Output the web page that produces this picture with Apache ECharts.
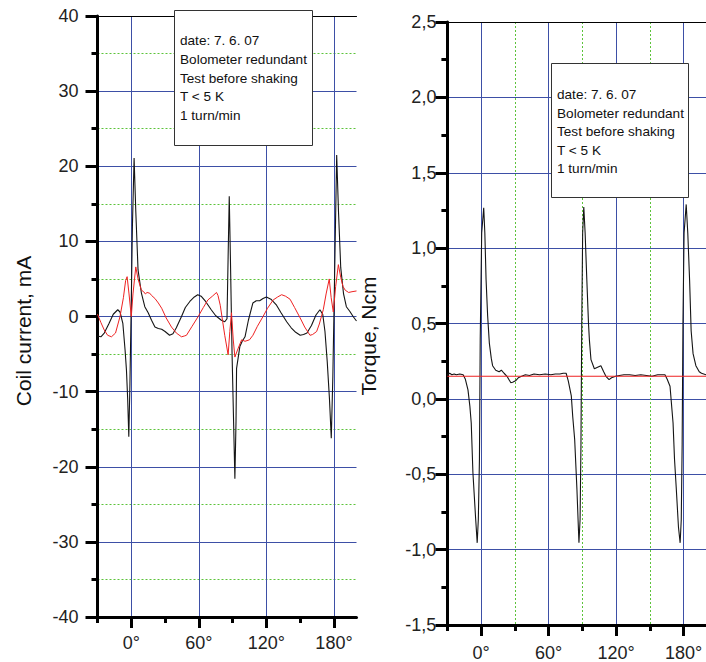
<!DOCTYPE html>
<html><head><meta charset="utf-8">
<script src="https://cdn.jsdelivr.net/npm/echarts@6/dist/echarts.min.js"></script>
<style>html,body{margin:0;padding:0;background:#fff}#c{width:706px;height:662px}</style>
</head><body><div id="c"></div>
<script>
// ---- tick labels / categories ----
const xTicks = ['-30','-20','-10','0','10','20','30','40','50','60','70','80','90','100','110','120','130','140','150','160','170','180','190','200'];
const xMajor = [0, 60, 120, 180];
const xMinor = [-30, 30, 90, 150];
const yTicksLeft = ['-40','-35','-30','-25','-20','-15','-10','-5','0','5','10','15','20','25','30','35','40'];
const yTicksRight = ['-1.5','-1.25','-1','-0.75','-0.5','-0.25','0','0.25','0.5','0.75','1','1.25','1.5','1.75','2','2.25','2.5'];

// ---- left chart: coil current, mA ----
const coilBlack = [[-30,-2.6],[-27,-2.7],[-24,-2.2],[-20,-1.0],[-16,0.3],[-12,0.9],[-10,0.6],[-7.5,-0.9],[-5.5,-4.5],[-4.3,-7.1],[-3.2,-11],[-2.2,-16.0],[-1.2,-9],[0,2],[1,12],[2.5,21.1],[4,14],[6,6.2],[9,3.1],[12,1.3],[15,0.5],[18,-0.5],[21,-1.4],[24,-1.6],[27,-1.7],[30,-2.0],[34,-2.5],[37,-2.3],[40,-1.5],[44.6,0],[48,1.2],[52,2.0],[56,2.6],[59,2.9],[62,2.7],[66,2.0],[71,0.9],[75,0.1],[80,-0.5],[83,-0.7],[85,-0.3],[86,8],[87,16.0],[88,8],[89.5,-5],[91,-15],[92,-21.6],[93,-14],[93.5,-6.9],[96.4,-4.0],[98.5,-3.3],[101,-2.7],[104,-0.5],[108,1.8],[111,2.1],[114,2.1],[117,2.4],[120,2.6],[124,2.3],[129,1.5],[133,0.5],[138,-0.7],[142,-1.5],[146,-2.1],[150,-2.5],[153,-2.4],[156,-2.2],[160,-1.2],[164,0.2],[167.5,0.9],[170,0.3],[172,-2],[174,-6],[176,-11],[177.6,-16.2],[179,-8],[180.5,5],[182.4,21.5],[184,14],[186,6.5],[188.5,3],[191,1.3],[194,0.7],[197,0],[200,-0.6]];
const coilRed = [[-30,0.3],[-27,-0.8],[-24,-1.8],[-21,-2.5],[-17.6,-2.7],[-14,-2.2],[-10,0],[-7,2.5],[-5,4.8],[-3.7,5.3],[-2,3],[0,0],[1.5,3],[4,6.6],[6,5],[9,3.5],[11,3.3],[12.5,3.0],[14,3.2],[16.4,3.1],[18,2.8],[21,2.4],[24,1.8],[27,1.1],[31,-0.2],[35.7,-1.4],[40,-2.2],[44.6,-2.7],[47,-2.6],[49,-2.5],[54,-1.3],[59.4,0],[64,1.2],[68,2.2],[72,2.7],[75.7,3.2],[77,2.8],[79,1.5],[81,-0.5],[83,-2.5],[86,-5.1],[87.5,-2],[89,0.5],[90.5,-3],[92,-5.4],[95,-4.2],[98,-3.1],[101,-3.3],[105,-3.1],[108,-2.5],[112,-1.3],[117,0],[121,1.1],[126,2.2],[130,2.6],[133.5,2.9],[137,2.7],[141,2.3],[145,1.2],[150,-0.2],[154,-1.4],[158.7,-2.5],[161,-2.4],[164.6,-2.0],[167,-1],[170.5,0.9],[173,3],[175.8,5.0],[177.5,2.5],[179.4,0.6],[181.5,4],[183.9,6.9],[186,5.2],[188,4.0],[190,3.5],[193,3.2],[196,3.3],[200,3.4]];

// ---- right chart: torque, Ncm ----
const torqueBlack = [[-30,0.16],[-28,0.17],[-26,0.16],[-24,0.165],[-22,0.16],[-19,0.165],[-16,0.16],[-14,0.13],[-11.7,0.06],[-10,-0.05],[-8.8,-0.16],[-7.3,-0.49],[-5,-0.78],[-3.5,-0.955],[-2.5,-0.8],[-1.5,-0.4],[-0.8,0.4],[0.5,1.1],[2.3,1.267],[3.3,1.1],[4.4,0.79],[5.8,0.55],[7.3,0.37],[9,0.27],[10.2,0.22],[13,0.19],[16,0.18],[18,0.19],[20.4,0.17],[23,0.15],[26.3,0.108],[28,0.11],[30.6,0.12],[33,0.14],[36,0.15],[39.4,0.16],[43,0.155],[47,0.165],[52,0.16],[57,0.165],[62,0.16],[66,0.165],[70,0.165],[73,0.17],[75.6,0.17],[77.5,0.12],[80.2,0.02],[81.5,-0.12],[83.2,-0.27],[85.2,-0.6],[87,-0.955],[88,-0.8],[88.8,-0.3],[89.5,0.5],[90.3,1.1],[91.3,1.273],[92.5,1.1],[94,0.79],[95.5,0.5],[96.3,0.39],[97.7,0.26],[100.7,0.2],[103.6,0.21],[106.5,0.22],[109,0.18],[111,0.15],[113.8,0.128],[116,0.14],[119.6,0.15],[123,0.155],[127,0.16],[132,0.16],[137,0.155],[142,0.16],[147,0.155],[152,0.15],[157,0.16],[161,0.16],[163.5,0.16],[165.5,0.13],[168,0.084],[170.7,-0.16],[172,-0.4],[173.6,-0.6],[175.5,-0.85],[177,-0.955],[178,-0.8],[178.8,-0.3],[179.5,0.5],[180.5,1.1],[182.4,1.29],[183.8,1.1],[185.4,0.79],[186.8,0.45],[188.5,0.3],[191,0.22],[194,0.18],[196,0.17],[200,0.16]];
const torqueRed = [[-30,0.15],[200,0.15]];

const infoLines = ['date: 7. 6. 07','Bolometer redundant','Test before shaking','T < 5 K','1 turn/min'];
const yNameLeft = 'Coil current, mA';
const yNameRight = 'Torque, Ncm';

// ---- styling ----
const FONT = 'Liberation Sans, Arial, sans-serif';
const BLUE = '#3d4fa6';
const GREEN = '#5cc33a';
const isXMajor = (i, v) => xMajor.includes(Number(v));
const isXMinor = (i, v) => xMinor.includes(Number(v));
const isXMinorGrid = (i, v) => Number(v) > -30 && xMinor.includes(Number(v));
const isL10 = (i, v) => Number(v) % 10 === 0;
const isL5 = (i, v) => Number(v) % 10 !== 0;
const isRHalf = (i, v) => Math.abs(Number(v) * 2 - Math.round(Number(v) * 2)) < 1e-9;
const isRQuarter = (i, v) => !isRHalf(i, v);

function xDecor(grid, major, showMinorGrid) {
  const minor = {
    type: 'category', gridIndex: grid, position: 'bottom', data: xTicks, boundaryGap: false,
    axisLine: { show: false }, axisLabel: { show: false },
    axisTick: { show: true, interval: isXMinor, length: 6, lineStyle: { color: '#000', width: 3 } },
    splitLine: { show: showMinorGrid, interval: isXMinorGrid, lineStyle: { color: GREEN, type: [2, 2], width: 1 } }
  };
  const maj = {
    type: 'category', gridIndex: grid, position: 'bottom', data: xTicks, boundaryGap: false,
    axisLine: { show: true, lineStyle: { color: '#000', width: 3 } },
    axisTick: { show: true, interval: isXMajor, length: 11, lineStyle: { color: '#000', width: 3 } },
    axisLabel: { show: true, interval: isXMajor, formatter: v => v + '°', fontSize: 18, fontFamily: FONT, color: '#222', margin: major },
    splitLine: { show: true, interval: isXMajor, lineStyle: { color: BLUE, width: 1 } }
  };
  const top = {
    type: 'category', gridIndex: grid, position: 'top', data: xTicks, boundaryGap: false,
    axisLine: { show: true, lineStyle: { color: '#000', width: 1 } },
    axisTick: { show: false }, axisLabel: { show: false }, splitLine: { show: false }
  };
  return [minor, maj, top];
}

const option = {
  animation: false,
  backgroundColor: '#fff',
  grid: [
    { left: 97.5, top: 16, width: 259, height: 601 },
    { left: 447.4, top: 22, width: 263, height: 603 }
  ],
  xAxis: [
    { type: 'value', gridIndex: 0, min: -30, max: 200, show: false },
    ...xDecor(0, 17, false),
    { type: 'value', gridIndex: 1, min: -30, max: 200, show: false },
    ...xDecor(1, 19, true)
  ],
  yAxis: [
    { type: 'value', gridIndex: 0, position: 'left', min: -40, max: 40, show: false },
    { type: 'category', gridIndex: 0, position: 'left', data: yTicksLeft, boundaryGap: false,
      axisLine: { show: false }, axisLabel: { show: false },
      axisTick: { show: true, interval: isL5, length: 6, lineStyle: { color: '#000', width: 3 } },
      splitLine: { show: true, interval: isL5, lineStyle: { color: GREEN, type: [2, 2], width: 1 } } },
    { type: 'category', gridIndex: 0, position: 'left', data: yTicksLeft, boundaryGap: false,
      axisLine: { show: true, lineStyle: { color: '#000', width: 3 } },
      axisTick: { show: true, interval: isL10, length: 12, lineStyle: { color: '#000', width: 3 } },
      axisLabel: { show: true, interval: isL10, fontSize: 18, fontFamily: FONT, color: '#222', margin: 19 },
      splitLine: { show: true, interval: isL10, lineStyle: { color: BLUE, width: 1 } } },
    { type: 'value', gridIndex: 1, position: 'left', min: -1.5, max: 2.5, show: false },
    { type: 'category', gridIndex: 1, position: 'left', data: yTicksRight, boundaryGap: false,
      axisLine: { show: false }, axisLabel: { show: false },
      axisTick: { show: true, interval: isRQuarter, length: 6, lineStyle: { color: '#000', width: 3 } },
      splitLine: { show: false } },
    { type: 'category', gridIndex: 1, position: 'left', data: yTicksRight, boundaryGap: false,
      axisLine: { show: true, lineStyle: { color: '#000', width: 3 } },
      axisTick: { show: true, interval: isRHalf, length: 12, lineStyle: { color: '#000', width: 3 } },
      axisLabel: { show: true, interval: isRHalf, fontSize: 18, fontFamily: FONT, color: '#222', margin: 11,
        formatter: v => Number(v).toFixed(1).replace('.', ',') },
      splitLine: { show: true, interval: isRHalf, lineStyle: { color: BLUE, width: 1 } } }
  ],
  series: [
    { type: 'line', xAxisIndex: 0, yAxisIndex: 0, data: coilBlack, showSymbol: false, lineStyle: { color: '#151515', width: 1.1 }, z: 3 },
    { type: 'line', xAxisIndex: 0, yAxisIndex: 0, data: coilRed, showSymbol: false, lineStyle: { color: '#ee2222', width: 1 }, z: 4 },
    { type: 'line', xAxisIndex: 4, yAxisIndex: 3, data: torqueBlack, showSymbol: false, lineStyle: { color: '#151515', width: 1.1 }, z: 3 },
    { type: 'line', xAxisIndex: 4, yAxisIndex: 3, data: torqueRed, showSymbol: false, lineStyle: { color: '#ee2222', width: 1.2 }, z: 4 }
  ],
  graphic: [
    { type: 'rect', z: 50, shape: { x: 174.5, y: 10.5, width: 138, height: 135 }, style: { fill: '#fff', stroke: '#333', lineWidth: 1 } },
    { type: 'text', z: 51, x: 180, y: 31.5, style: { text: infoLines.join('\n'), fontSize: 13.6, lineHeight: 18.7, fontFamily: FONT, fill: '#111' } },
    { type: 'rect', z: 50, shape: { x: 551.5, y: 63.5, width: 137, height: 134 }, style: { fill: '#fff', stroke: '#333', lineWidth: 1 } },
    { type: 'text', z: 51, x: 557, y: 85.5, style: { text: infoLines.join('\n'), fontSize: 13.6, lineHeight: 18.5, fontFamily: FONT, fill: '#111' } },
    { type: 'text', z: 51, x: 23, y: 331, rotation: Math.PI / 2, style: { text: yNameLeft, fontSize: 21, fontFamily: FONT, fill: '#111', align: 'center', verticalAlign: 'middle' } },
    { type: 'text', z: 51, x: 368, y: 336, rotation: Math.PI / 2, style: { text: yNameRight, fontSize: 21, fontFamily: FONT, fill: '#111', align: 'center', verticalAlign: 'middle' } }
  ]
};
const chart = echarts.init(document.getElementById('c'), null, { renderer: 'svg' });
chart.setOption(option);
</script></body></html>
